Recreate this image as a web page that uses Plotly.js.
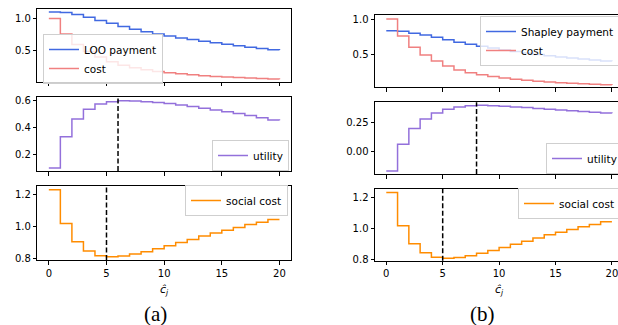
<!DOCTYPE html>
<html><head><meta charset="utf-8">
<script src="https://cdn.plot.ly/plotly-3.0.1.min.js"></script>
<style>html,body{margin:0;padding:0;overflow:hidden;background:#fff;width:618px;height:325px}</style>
</head><body><div id="chart"></div>
<script>
// ---- data ----
const cHat = [0,1,2,3,4,5,6,7,8,9,10,11,12,13,14,15,16,17,18,19,20];
const costValues = [1.0,0.76,0.60,0.49,0.405,0.335,0.278,0.24,0.21,0.185,0.165,0.148,0.133,0.12,0.108,0.098,0.09,0.082,0.075,0.068,0.065];
const looPayment = [1.10,1.09,1.06,1.02,0.97,0.925,0.875,0.832,0.795,0.762,0.73,0.70,0.675,0.65,0.627,0.603,0.58,0.558,0.537,0.517,0.515];
const utilityA = [0.10,0.33,0.46,0.532,0.571,0.588,0.595,0.593,0.588,0.582,0.575,0.564,0.552,0.54,0.527,0.513,0.50,0.485,0.47,0.452,0.45];
const socialCostA = [1.231,1.019,0.904,0.846,0.817,0.81,0.815,0.827,0.842,0.86,0.879,0.90,0.919,0.94,0.96,0.977,0.994,1.012,1.027,1.044,1.044];
const shapleyPayment = [0.833,0.828,0.80,0.772,0.742,0.705,0.67,0.642,0.615,0.59,0.563,0.54,0.518,0.497,0.48,0.462,0.448,0.435,0.42,0.405,0.403];
const utilityB = [-0.169,0.064,0.201,0.285,0.337,0.369,0.39,0.401,0.404,0.401,0.395,0.39,0.384,0.375,0.369,0.362,0.356,0.35,0.344,0.337,0.335];
const socialCostB = [1.231,1.019,0.904,0.846,0.817,0.81,0.815,0.827,0.842,0.86,0.879,0.90,0.919,0.94,0.96,0.977,0.994,1.012,1.027,1.044,1.044];
const bestUtilityA = [6];
const bestSocialA = [5];
const bestUtilityB = [8];
const bestSocialB = [5];
const xTickVals = [0,5,10,15,20];
const xTickText = ['0','5','10','15','20'];
const yTicksATop = [0.5,1.0], yTextATop = ['0.5','1.0'];
const yTicksAMid = [0.2,0.4,0.6], yTextAMid = ['0.2','0.4','0.6'];
const yTicksBot = [0.8,1.0,1.2], yTextBot = ['0.8','1.0','1.2'];
const yTicksBTop = [0.5,1.0], yTextBTop = ['0.5','1.0'];
const yTicksBMid = [0.0,0.25], yTextBMid = ['0.00','0.25'];
const panelLabels = ['(a)','(b)'];
const xTitle = '<i>ĉ</i><sub><i>j</i></sub>';

// ---- layout helpers ----
const W = 640, H = 325;
const fx = p => p / W;
const fy = p => 1 - p / H;
const C = {pay:'#4169E1', cost:'#F08080', util:'#9370DB', social:'#FF8C00'};
const tickFont = {family:'DejaVu Sans', size:10, color:'#000'};
const legFont = {family:'DejaVu Sans', size:10.5, color:'#000'};

function xax(domPx, anchor, showLabels){
  return {domain:[fx(domPx[0]), fx(domPx[1])], anchor:anchor, range:[-1,21],
    tickvals:xTickVals, ticktext:xTickText, showticklabels:showLabels,
    ticks:'outside', ticklen:3.5, tickwidth:1, tickcolor:'#000',
    showline:true, mirror:true, linecolor:'#000', linewidth:1,
    showgrid:false, zeroline:false, tickfont:tickFont, fixedrange:true};
}
function yax(domPx, anchor, range, tv, tt){
  return {domain:[fy(domPx[1]), fy(domPx[0])], anchor:anchor, range:range,
    tickvals:tv, ticktext:tt, ticks:'outside', ticklen:3.5, tickwidth:1, tickcolor:'#000',
    showline:true, mirror:true, linecolor:'#000', linewidth:1,
    showgrid:false, zeroline:false, tickfont:tickFont, fixedrange:true};
}
function tr(y, name, color, xa, ya, leg){
  return {x:cHat, y:y, name:name, type:'scatter', mode:'lines',
    line:{color:color, width:1.5, shape:'hv'}, xaxis:xa, yaxis:ya, legend:leg, showlegend:true};
}
function leg(leftPx, topPx){
  return {x:fx(leftPx), y:fy(topPx), xanchor:'left', yanchor:'top',
    bgcolor:'rgba(255,255,255,0.8)', bordercolor:'#cfcfcf', borderwidth:1,
    font:legFont, itemwidth:30, tracegroupgap:0};
}

const xA = [37.3, 291], xB = [375, 623.2];

const data = [
  tr(looPayment,'LOO payment',C.pay,'x','y','legend'),
  tr(costValues,'cost',C.cost,'x','y','legend'),
  tr(utilityA,'utility',C.util,'x2','y2','legend2'),
  tr(socialCostA,'social cost',C.social,'x3','y3','legend3'),
  tr(shapleyPayment,'Shapley payment',C.pay,'x4','y4','legend4'),
  tr(costValues,'cost',C.cost,'x4','y4','legend4'),
  tr(utilityB,'utility',C.util,'x5','y5','legend5'),
  tr(socialCostB,'social cost',C.social,'x6','y6','legend6')
];

function vline(xv, xa, ya){
  return {type:'line', xref:xa, yref:ya+' domain', x0:xv, x1:xv, y0:0, y1:1,
    line:{color:'#000', width:1.5, dash:'5px,2.5px'}};
}

const layout = {
  width:W, height:H, margin:{l:0,r:0,t:0,b:0},
  paper_bgcolor:'#fff', plot_bgcolor:'#fff',
  xaxis: xax(xA,'y',false),
  yaxis: yax([9,81.5],'x',[0.03,1.145],yTicksATop,yTextATop),
  xaxis2: xax(xA,'y2',false),
  yaxis2: yax([97.3,171],'x2',[0.077,0.62],yTicksAMid,yTextAMid),
  xaxis3: xax(xA,'y3',true),
  yaxis3: yax([186,260],'x3',[0.79,1.254],yTicksBot,yTextBot),
  xaxis4: xax(xB,'y4',false),
  yaxis4: yax([15,87.3],'x4',[0.033,1.057],yTicksBTop,yTextBTop),
  xaxis5: xax(xB,'y5',false),
  yaxis5: yax([102.3,174],'x5',[-0.195,0.43],yTicksBMid,yTextBMid),
  xaxis6: xax(xB,'y6',true),
  yaxis6: yax([189,260.7],'x6',[0.795,1.253],yTicksBot,yTextBot),
  legend: leg(43,34),
  legend2: leg(212,140),
  legend3: leg(185,185),
  legend4: leg(480,16),
  legend5: leg(546,143),
  legend6: leg(518,188),
  shapes:[
    vline(bestUtilityA[0],'x2','y2'),
    vline(bestSocialA[0],'x3','y3'),
    vline(bestUtilityB[0],'x5','y5'),
    vline(bestSocialB[0],'x6','y6')
  ],
  annotations:[
    {text:xTitle, xref:'paper', yref:'paper', x:fx(164.5), y:fy(290), xanchor:'center', yanchor:'middle', showarrow:false, font:{family:'DejaVu Sans', size:11, color:'#000'}},
    {text:xTitle, xref:'paper', yref:'paper', x:fx(499.3), y:fy(290), xanchor:'center', yanchor:'middle', showarrow:false, font:{family:'DejaVu Sans', size:11, color:'#000'}},
    {text:panelLabels[0], xref:'paper', yref:'paper', x:fx(155), y:fy(314), xanchor:'center', yanchor:'middle', showarrow:false, font:{family:'Liberation Serif', size:21, color:'#000'}},
    {text:panelLabels[1], xref:'paper', yref:'paper', x:fx(482), y:fy(314), xanchor:'center', yanchor:'middle', showarrow:false, font:{family:'Liberation Serif', size:21, color:'#000'}}
  ]
};

Plotly.newPlot('chart', data, layout, {staticPlot:true, displayModeBar:false});
</script>
</body></html>
